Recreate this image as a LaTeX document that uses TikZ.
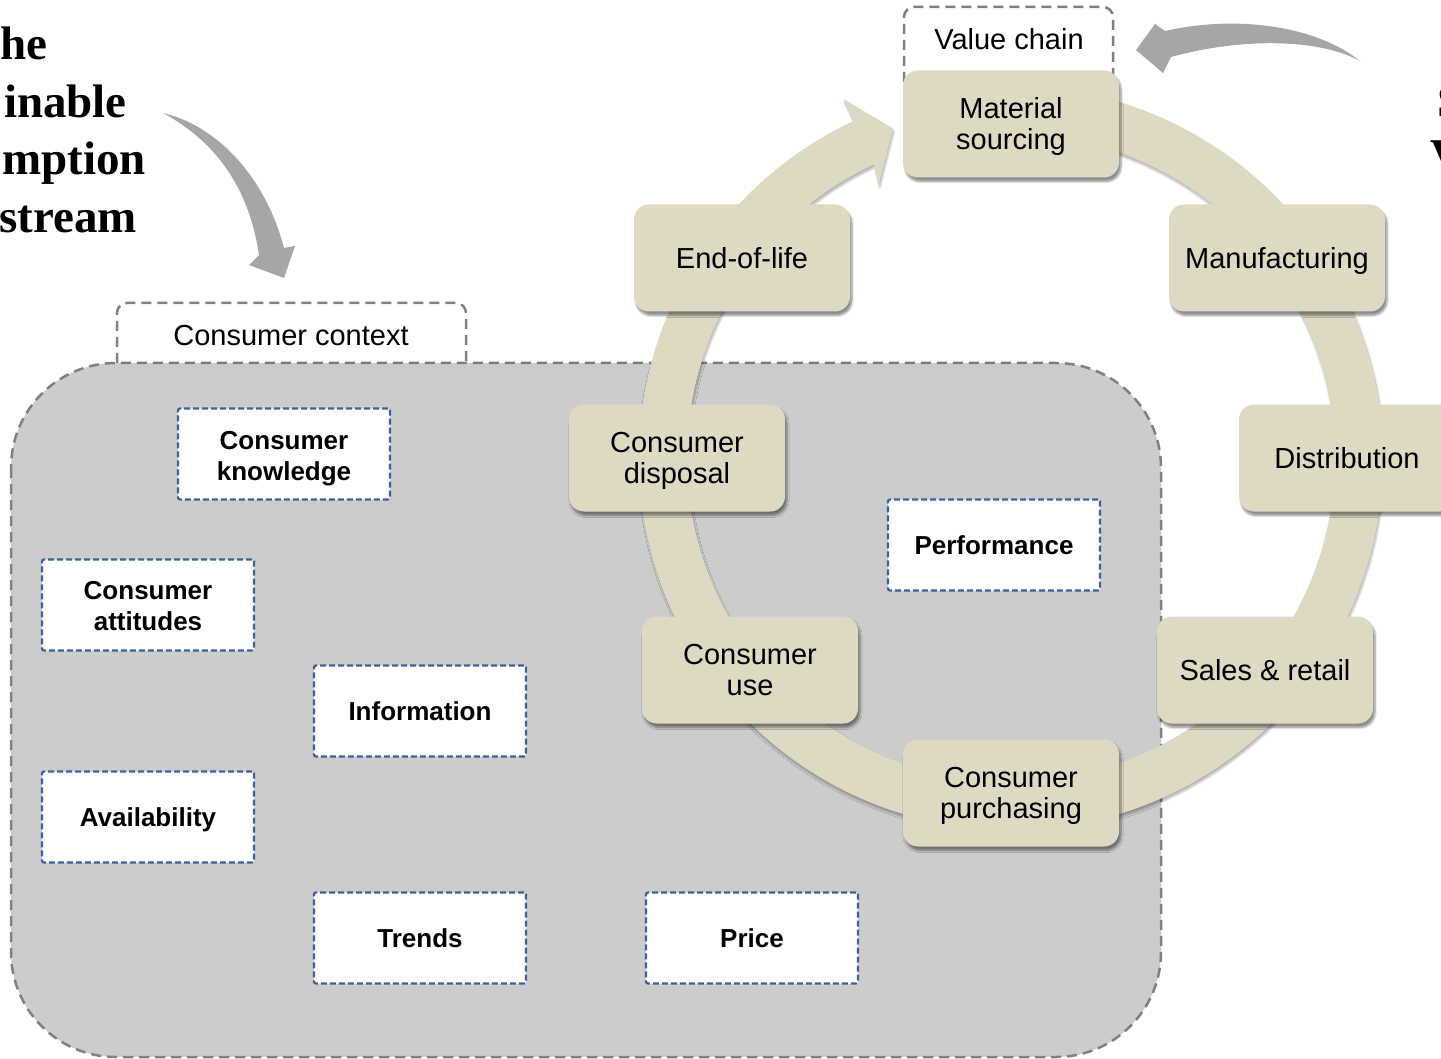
\documentclass[tikz,border=0pt]{standalone}
\usepackage{fontspec}
\setmainfont{Liberation Sans}
\newfontfamily\timesfont{Liberation Serif}
\usetikzlibrary{shadows,shadows.blur}
\definecolor{stagetan}{HTML}{DDD9C3}
\definecolor{ctxgray}{HTML}{CCCCCC}
\definecolor{dashgray}{HTML}{808080}
\definecolor{boxblue}{HTML}{3D6296}
\definecolor{arrowgray}{HTML}{A6A6A6}
\newcommand{\pptstrut}{\rule[-0.212em]{0pt}{1.117em}}
\begin{document}
\begin{tikzpicture}[x=1pt,y=-1pt,
  stage/.style={rectangle, rounded corners=15pt, fill=stagetan, minimum width=216pt, minimum height=107pt,
    inner sep=0pt, align=center, font=\fontsize{29}{31}\selectfont,
    execute at begin node={\pptstrut}, execute at end node={\pptstrut},
    blur shadow={shadow xshift=2pt, shadow yshift=-4pt, shadow blur steps=6, shadow opacity=45}},
  stagelbl/.style={inner sep=0pt, align=center, font=\fontsize{29}{31}\selectfont, yshift=-3pt},
  factor/.style={rectangle, rounded corners=2pt, fill=white, draw=boxblue, line width=2.2pt,
    dash pattern=on 6pt off 3pt, minimum width=212pt, minimum height=91pt, inner sep=0pt,
    execute at begin node={\pptstrut}, execute at end node={\pptstrut},
    align=center, font=\fontsize{26}{31}\selectfont\bfseries},
  factorlbl/.style={inner sep=0pt, align=center, font=\fontsize{26}{31}\selectfont\bfseries, yshift=-5pt},
  grayline/.style={draw=dashgray, line width=2.5pt, dash pattern=on 10pt off 6pt},
  labeltext/.style={font=\fontsize{29}{31}\selectfont, inner sep=0pt,
    execute at begin node={\pptstrut}},
  frag/.style={font=\timesfont\bfseries\fontsize{47}{57}\selectfont, inner sep=0pt},
  bigarrow/.style={fill=arrowgray}
]
\useasboundingbox (0,0) rectangle (1441,1059);

% cut-off title fragments
\node[frag, anchor=base east] (t1) at (48,60) {he};
\node[frag, anchor=base east] (t2) at (127,118) {inable};
\node[frag, anchor=base east] (t3) at (146,175) {mption};
\node[frag, anchor=base east] (t4) at (137,233) {stream};
\node[frag, anchor=base west] (r1) at (1437,118) {S};
\node[frag, anchor=base west] (r2) at (1430,172) {V};

% grey curved arrows
\fill[bigarrow] (163,113) .. controls (215,125) and (265,175) .. (284,248)
  -- (295,246) -- (284,278) -- (249,265) -- (259,255)
  .. controls (250,195) and (222,145) .. (163,113) -- cycle;
\fill[bigarrow] (1360,61) .. controls (1315,25) and (1235,15) .. (1165,31)
  -- (1155,24) -- (1136,50) -- (1163,73) -- (1171,57)
  .. controls (1240,38) and (1318,38) .. (1360,61) -- cycle;

% consumer context region
\draw[grayline, fill=ctxgray, rounded corners=105pt] (11,363) rectangle (1161,1057);
\draw[grayline, rounded corners=10pt] (117,363) -- (117,303) -- (466,303) -- (466,363);
\node[labeltext] (cclabel) at (291,335) {Consumer context};

% value chain label
\draw[grayline, fill=white, rounded corners=10pt] (904,82) -- (904,7) -- (1113,7) -- (1113,82);
\node[labeltext] (vclabel) at (1009,39) {Value chain};

% ring arrow
\begin{scope}[shift={(1011,458)}, yscale=-1]
\fill[stagetan, blur shadow={shadow xshift=1pt, shadow yshift=-3pt, shadow blur steps=6, shadow opacity=30}]
  (85:372) arc[start angle=85, end angle=-245, radius=372]
  -- (115:396) -- (109.7:350) -- (115.8:304) -- (115:324)
  arc[start angle=-245, end angle=85, radius=324] -- cycle;
\end{scope}

% stages
\node[stage, label={[stagelbl]center:Material\\sourcing}] (ms) at (1011,124) {};
\node[stage] (man) at (1277,258) {Manufacturing};
\node[stage] (dist) at (1347,458) {Distribution};
\node[stage] (sales) at (1265,670) {Sales \& retail};
\node[stage, label={[stagelbl]center:Consumer\\purchasing}] (cp) at (1011,793) {};
\node[stage, label={[stagelbl, yshift=3pt]center:Consumer\\use}] (cu) at (750,670) {};
\node[stage, label={[stagelbl]center:Consumer\\disposal}] (cd) at (677,458) {};
\node[stage] (eol) at (742,258) {End-of-life};

% context factors
\node[factor, label={[factorlbl]center:Consumer\\knowledge}] (ck) at (284,454) {};
\node[factor, label={[factorlbl, yshift=4pt]center:Consumer\\attitudes}] (ca) at (148,605) {};
\node[factor] (av) at (148,817) {Availability};
\node[factor] (info) at (420,711) {Information};
\node[factor] (trends) at (420,938) {Trends};
\node[factor] (price) at (752,938) {Price};
\node[factor] (perf) at (994,545) {Performance};
\end{tikzpicture}
\end{document}
